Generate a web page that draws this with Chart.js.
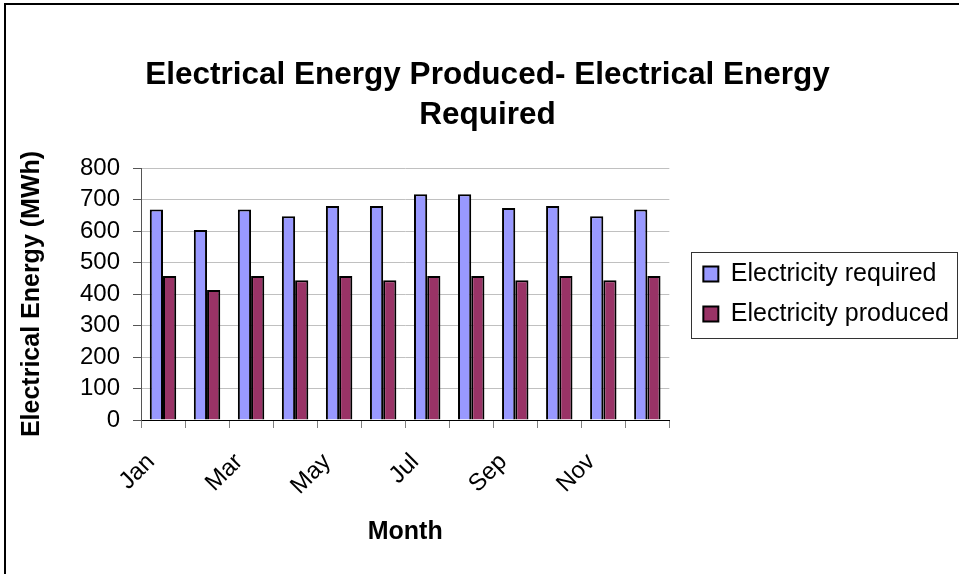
<!DOCTYPE html>
<html>
<head>
<meta charset="utf-8">
<script src="https://cdn.jsdelivr.net/npm/chart.js@4.4.0/dist/chart.umd.min.js"></script>
<style>
  html, body { margin: 0; padding: 0; background: #fff; }
  #wrap { width: 959px; height: 574px; position: relative; }
</style>
</head>
<body>
<div id="wrap"><canvas id="chart"></canvas></div>
<script>
const months = ['Jan', 'Feb', 'Mar', 'Apr', 'May', 'Jun', 'Jul', 'Aug', 'Sep', 'Oct', 'Nov', 'Dec'];
const required = [668, 603, 668, 647, 679, 679, 717, 717, 673, 679, 647, 668];
const produced = [457, 413, 457, 444, 457, 444, 457, 457, 444, 457, 444, 457];
const yMin = 0, yMax = 800, yTickCount = 9;

const FONT = "'Liberation Sans', Arial, sans-serif";

// outer frame of the picture + box round the legend
const framePlugin = {
    id: 'frame',
    afterDraw(chart) {
        const ctx = chart.ctx;
        ctx.save();
        ctx.strokeStyle = '#000';
        ctx.lineWidth = 2;
        ctx.beginPath();
        ctx.moveTo(5, chart.height);
        ctx.lineTo(5, 4);
        ctx.lineTo(chart.width, 4);
        ctx.stroke();

        const hb = chart.legend.legendHitBoxes;
        if (hb && hb.length) {
            const l = Math.min(...hb.map(b => b.left)) - 12;
            const r = Math.max(...hb.map(b => b.left + b.width)) + 8;
            const t = hb[0].top - 10;
            const b = hb[hb.length - 1].top + hb[hb.length - 1].height + 11;
            ctx.lineWidth = 1;
            ctx.strokeStyle = '#333';
            ctx.strokeRect(Math.round(l) + 0.5, Math.round(t) + 0.5, Math.round(r - l), Math.round(b - t));
        }
        ctx.restore();
    }
};

new Chart(document.getElementById('chart'), {
    type: 'bar',
    data: {
        labels: months,
        datasets: [{
            label: 'Electricity required',
            data: required,
            backgroundColor: '#9999FF',
            borderColor: '#000',
            borderWidth: 2,
            barPercentage: 1.0,
            categoryPercentage: 0.6,
        }, {
            label: 'Electricity produced',
            data: produced,
            backgroundColor: '#993366',
            borderColor: '#000',
            borderWidth: 2,
            barPercentage: 1.0,
            categoryPercentage: 0.6,
        }]
    },
    options: {
        responsive: true,
        maintainAspectRatio: false,
        animation: false,
        layout: { padding: { left: 16, right: 0, top: 0, bottom: 0 } },
        plugins: {
            title: {
                display: true,
                text: ['Electrical Energy Produced- Electrical Energy', 'Required'],
                color: '#000',
                font: { family: FONT, size: 31.5, weight: 'bold', lineHeight: 1.27 },
                padding: { top: 55, bottom: 33 }
            },
            legend: {
                position: 'right',
                align: 'center',
                fullSize: false,
                maxWidth: 300,
                labels: {
                    color: '#000',
                    font: { family: FONT, size: 25 },
                    boxWidth: 15,
                    boxHeight: 15,
                    padding: 15
                }
            },
            tooltip: { enabled: false }
        },
        scales: {
            x: {
                offset: true,
                grid: {
                    display: true,
                    drawOnChartArea: false,
                    tickLength: 8,
                    tickColor: '#808080',
                    offset: true
                },
                border: { color: '#000', width: 1 },
                ticks: {
                    autoSkip: false,
                    minRotation: 45,
                    maxRotation: 45,
                    padding: 20,
                    labelOffset: -12,
                    color: '#000',
                    font: { family: FONT, size: 24 },
                    callback: (v, i) => i % 2 === 0 ? months[i] : ''
                },
                title: {
                    display: true,
                    text: 'Month',
                    color: '#000',
                    font: { family: FONT, size: 25, weight: 'bold', lineHeight: 1.2 },
                    padding: { top: 0, bottom: 27 }
                },
                afterFit(s) { s.height = 154; }
            },
            y: {
                min: yMin,
                max: yMax,
                grid: {
                    color: '#C0C0C0',
                    tickLength: 8,
                    tickColor: '#555'
                },
                border: { color: '#555', width: 1 },
                ticks: {
                    count: yTickCount,
                    autoSkip: false,
                    padding: 13,
                    color: '#000',
                    font: { family: FONT, size: 24 }
                },
                title: {
                    display: true,
                    text: 'Electrical Energy (MWh)',
                    color: '#000',
                    font: { family: FONT, size: 25, weight: 'bold', lineHeight: 1.2 },
                    padding: { top: 1, bottom: 0 }
                },
                afterFit(s) { s.width = 125; }
            },
            gap: {
                type: 'linear',
                position: 'right',
                display: true,
                grid: { display: false, drawTicks: false },
                border: { display: false },
                ticks: { display: false },
                afterFit(s) { s.width = 19; }
            }
        }
    },
    plugins: [framePlugin]
});
</script>
</body>
</html>
